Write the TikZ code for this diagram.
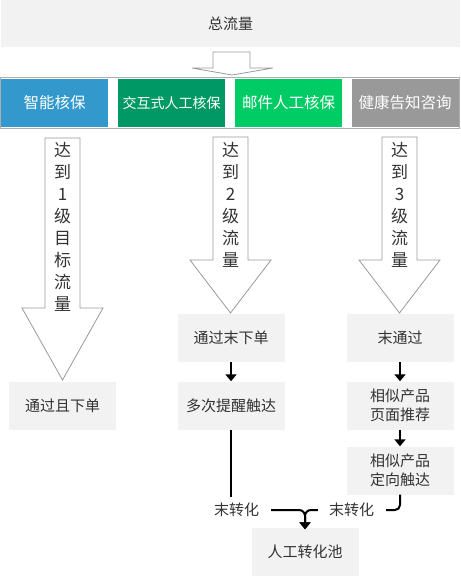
\documentclass[tikz,border=0pt]{standalone}
\usepackage{fontspec}
\setmainfont{Noto Sans CJK SC}
\usetikzlibrary{arrows.meta}
\definecolor{cblue}{HTML}{3399CC}
\definecolor{cdgreen}{HTML}{009966}
\definecolor{cgreen}{HTML}{00CC66}
\definecolor{cgray}{HTML}{999999}
\definecolor{boxfill}{HTML}{F2F2F2}
\definecolor{txt}{HTML}{333333}
\definecolor{outl}{HTML}{999999}
\begin{document}
\begin{tikzpicture}[x=1pt,y=-1pt,
  graybox/.style={fill=boxfill,minimum width=107pt,minimum height=48pt,inner sep=0pt,text=txt,font=\fontsize{15}{19}\selectfont,align=center},
  colbox/.style={minimum width=107pt,minimum height=48pt,inner sep=0pt,text=white,font=\fontsize{15.5}{19}\selectfont},
  blockarrow/.style={draw=outl,line width=0.8pt,fill=white},
  arrtext/.style={inner sep=0pt,text=txt,align=center,font=\fontsize{17}{22}\selectfont},
  conn/.style={line width=2pt,black},
  connarr/.style={conn,-{Triangle[width=11pt,length=7pt]}},
  lab/.style={inner sep=0pt,text=txt,font=\fontsize{15}{19}\selectfont}]
\useasboundingbox (0,0) rectangle (460,577);
% top box
\node[fill=boxfill,minimum width=459pt,minimum height=47pt,inner sep=0pt,text=txt,font=\fontsize{15}{19}\selectfont] (total) at (230.5,23.5) {总流量};
% top block arrow
\draw[blockarrow] (213,52) -- (250,52) -- (250,68) -- (273,68) -- (232,75) -- (192,68) -- (213,68) -- cycle;
% row
\draw[draw=outl!80,line width=0.6pt] (0.3,77) rectangle (459.7,128);
\node[colbox,fill=cblue] (c1) at (54.5,103) {智能核保};
\node[colbox,fill=cdgreen,font=\fontsize{14}{18}\selectfont] (c2) at (171.5,103) {交互式人工核保};
\node[colbox,fill=cgreen] (c3) at (288.5,103) {邮件人工核保};
\node[colbox,fill=cgray] (c4) at (405,103) {健康告知咨询};
% block arrows
\draw[blockarrow] (45,138) -- (80,138) -- (80,308) -- (103,308) -- (62.5,380) -- (22,308) -- (45,308) -- cycle;
\draw[blockarrow] (213,137) -- (248,137) -- (248,260) -- (271,260) -- (230.5,313) -- (190,260) -- (213,260) -- cycle;
\draw[blockarrow] (382,137) -- (417,137) -- (417,260) -- (440,260) -- (399.5,313) -- (359,260) -- (382,260) -- cycle;
\node[arrtext] (a1) at (62.5,227) {达\\到\\1\\级\\目\\标\\流\\量};
\node[arrtext] (a2) at (230.5,205) {达\\到\\2\\级\\流\\量};
\node[arrtext] (a3) at (399.5,205) {达\\到\\3\\级\\流\\量};
% boxes
\node[graybox] (b1) at (62.5,406) {通过且下单};
\node[graybox] (b2) at (231,338) {通过末下单};
\node[graybox] (b3) at (231,405.5) {多次提醒触达};
\node[graybox] (r1) at (400,338) {末通过};
\node[graybox] (r2) at (400,405.5) {相似产品\\页面推荐};
\node[graybox] (r3) at (400,470.5) {相似产品\\定向触达};
\node[graybox] (pool) at (305,551.5) {人工转化池};
\node[lab] (l1) at (236.5,510) {末转化};
\node[lab] (l2) at (351.5,510) {末转化};
\coordinate (e1) at (231,497);
% connectors
\draw[connarr] (b2.south) -- (b3.north);
\draw[connarr] (r1.south) -- (r2.north);
\draw[connarr] (r2.south) -- (r3.north);
\draw[conn] (b3.south) -- (e1);
\draw[conn,rounded corners=5pt] (r3.south) |- ([xshift=12pt]l2.east);
\draw[connarr,rounded corners=6pt] ([xshift=12pt]l1.east) -| ([yshift=-2pt]pool.north);
\draw[connarr,rounded corners=6pt] ([xshift=-11pt]l2.west) -| ([yshift=-2pt]pool.north);
\end{tikzpicture}
\end{document}
